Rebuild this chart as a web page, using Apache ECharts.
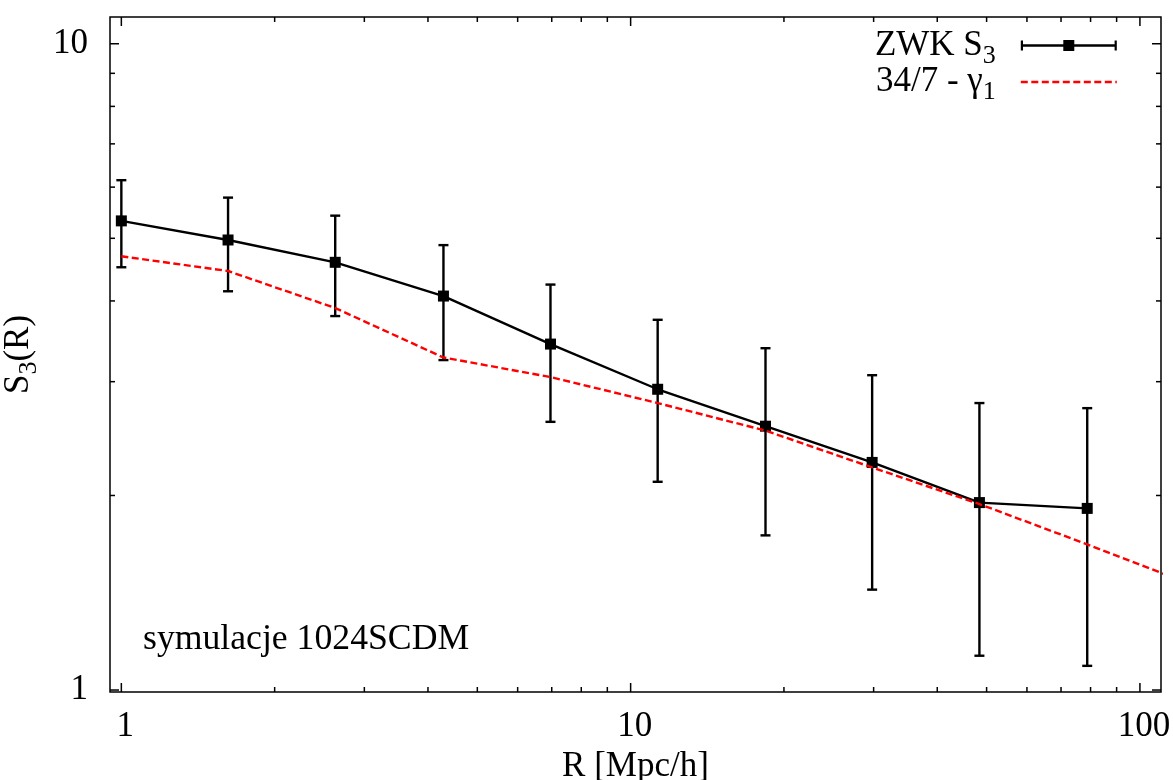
<!DOCTYPE html>
<html>
<head>
<meta charset="utf-8">
<script src="https://cdn.jsdelivr.net/npm/echarts@6/dist/echarts.min.js"></script>
<style>
html,body{margin:0;padding:0;background:#fff;}
#chart{width:1173px;height:780px;}
</style>
</head>
<body>
<div id="chart"></div>
<script>
// ---- data ----
const R = [1.0, 1.62, 2.63, 4.29, 6.96, 11.3, 18.4, 29.8, 48.4, 78.8];
const S3 = [5.32, 4.97, 4.59, 4.07, 3.43, 2.92, 2.56, 2.25, 1.95, 1.91];
const S3Low = [4.51, 4.14, 3.79, 3.24, 2.60, 2.10, 1.735, 1.43, 1.13, 1.09];
const S3High = [6.15, 5.78, 5.42, 4.88, 4.24, 3.74, 3.38, 3.07, 2.78, 2.73];
const RGamma = [1.0, 1.62, 2.63, 4.29, 6.96, 11.3, 18.4, 29.8, 48.4, 78.8, 128];
const Gamma = [4.69, 4.45, 3.90, 3.27, 3.05, 2.78, 2.52, 2.21, 1.94, 1.68, 1.45];
const xMajorTicks = [1, 10, 100];
const xMinorTicks = [2, 3, 4, 5, 6, 7, 8, 9, 20, 30, 40, 50, 60, 70, 80, 90];
const yMajorTicks = [1, 10];
const yMinorTicks = [2, 3, 4, 5, 6, 7, 8, 9];
const seriesNames = ['ZWK S3', '34/7 - γ1'];
const xTitle = 'R [Mpc/h]';
const note = 'symulacje 1024SCDM';

const FONT = 'Liberation Serif';
const chart = echarts.init(document.getElementById('chart'), null, {renderer: 'canvas'});

function powerLabel(v) {
  const l = Math.log10(v);
  return Math.abs(l - Math.round(l)) < 1e-6 ? String(Math.round(v)) : '';
}

const xTickData = xMajorTicks.map(v => [v, 1, 1]).concat(xMinorTicks.map(v => [v, 1, 0]));
const yTickData = yMajorTicks.map(v => [1, v, 1]).concat(yMinorTicks.map(v => [1, v, 0]));

const errData = R.map((r, i) => [r, S3Low[i], S3High[i]]);

const option = {
  backgroundColor: '#fff',
  animation: false,
  grid: {
    left: 110, right: 12, top: 17, bottom: 88,
    show: true, borderColor: '#000', borderWidth: 1.5,
    containLabel: false, outerBoundsMode: 'none'
  },
  legend: {
    orient: 'vertical', align: 'right', right: 50, top: 23,
    itemWidth: 96, itemHeight: 11, itemGap: -4.5, padding: 5,
    selectedMode: false,
    data: [
      {name: seriesNames[0], icon: 'path://M0,4.25H96V6.75H0Z M0,0.5H2.2V10.5H0Z M93.8,0.5H96V10.5H93.8Z M42.5,0H53.5V11H42.5Z'},
      {name: seriesNames[1],
       itemStyle: {color: 'rgba(0,0,0,0)', borderColor: 'rgba(0,0,0,0)', borderWidth: 0},
       lineStyle: {color: '#ff0000', width: 2.4, type: [7, 3.5]}}
    ],
    formatter: function (name) {
      if (name === seriesNames[0]) return '{a|ZWK S}{s|3}';
      return '{a|34/7 - γ}{s|1}';
    },
    textStyle: {
      fontFamily: FONT, color: '#000',
      rich: {
        a: {fontFamily: FONT, fontSize: 35, lineHeight: 35, color: '#000', verticalAlign: 'top'},
        s: {fontFamily: FONT, fontSize: 26, lineHeight: 26, color: '#000', verticalAlign: 'top', padding: [15, 20, 0, 0]}
      }
    }
  },
  xAxis: {
    type: 'log', logBase: 10, min: 0.95, max: 110,
    axisLine: {show: false}, axisTick: {show: false}, splitLine: {show: false},
    axisLabel: {
      formatter: powerLabel, fontFamily: FONT, fontSize: 35, color: '#000',
      margin: 17, padding: [0, 0, 0, 8]
    },
    name: xTitle, nameLocation: 'middle', nameGap: 57,
    nameTextStyle: {fontFamily: FONT, fontSize: 35, color: '#000'}
  },
  yAxis: {
    type: 'log', logBase: 10, min: 0.993, max: 11,
    axisLine: {show: false}, axisTick: {show: false}, splitLine: {show: false},
    axisLabel: {
      formatter: powerLabel, fontFamily: FONT, fontSize: 35, color: '#000', margin: 22
    },
    name: '{a|S}{s|3}{a|(R)}', nameLocation: 'middle', nameGap: 57, nameRotate: 90,
    nameTextStyle: {
      fontFamily: FONT, fontSize: 35, color: '#000',
      rich: {
        a: {fontFamily: FONT, fontSize: 35, lineHeight: 35, color: '#000', verticalAlign: 'top'},
        s: {fontFamily: FONT, fontSize: 26, lineHeight: 26, color: '#000', verticalAlign: 'top', padding: [15, 0, 0, 0]}
      }
    }
  },
  graphic: [{
    type: 'text', left: 143, top: 622,
    style: {text: note, fontFamily: FONT, fontSize: 35.7, fill: '#000'}
  }],
  series: [
    {
      name: 'ticks-x', type: 'custom', silent: true, z: 1,
      data: xTickData,
      renderItem: function (params, api) {
        const cs = params.coordSys;
        const x = api.coord([api.value(0), 1])[0];
        const len = api.value(2) ? 9 : 5;
        const bottom = cs.y + cs.height, top = cs.y;
        const st = {stroke: '#000', lineWidth: 1.5};
        return {type: 'group', children: [
          {type: 'line', shape: {x1: x, y1: bottom, x2: x, y2: bottom - len}, style: st},
          {type: 'line', shape: {x1: x, y1: top, x2: x, y2: top + len}, style: st}
        ]};
      }
    },
    {
      name: 'ticks-y', type: 'custom', silent: true, z: 1,
      data: yTickData,
      renderItem: function (params, api) {
        const cs = params.coordSys;
        const y = api.coord([1, api.value(1)])[1];
        const len = api.value(2) ? 9 : 5;
        const left = cs.x, right = cs.x + cs.width;
        const st = {stroke: '#000', lineWidth: 1.5};
        return {type: 'group', children: [
          {type: 'line', shape: {x1: left, y1: y, x2: left + len, y2: y}, style: st},
          {type: 'line', shape: {x1: right, y1: y, x2: right - len, y2: y}, style: st}
        ]};
      }
    },
    {
      name: 'ZWK S3 errors', type: 'custom', silent: true, z: 2,
      data: errData,
      encode: {x: 0, y: [1, 2]},
      renderItem: function (params, api) {
        const x = api.value(0);
        const pLo = api.coord([x, api.value(1)]);
        const pHi = api.coord([x, api.value(2)]);
        const w = 5;
        const st = {stroke: '#000', lineWidth: 2.4};
        return {type: 'group', children: [
          {type: 'line', shape: {x1: pLo[0], y1: pLo[1], x2: pHi[0], y2: pHi[1]}, style: st},
          {type: 'line', shape: {x1: pLo[0] - w, y1: pLo[1], x2: pLo[0] + w, y2: pLo[1]}, style: st},
          {type: 'line', shape: {x1: pHi[0] - w, y1: pHi[1], x2: pHi[0] + w, y2: pHi[1]}, style: st}
        ]};
      }
    },
    {
      name: seriesNames[0], type: 'line', z: 3,
      data: R.map((r, i) => [r, S3[i]]),
      symbol: 'rect', symbolSize: 11, showAllSymbol: true,
      itemStyle: {color: '#000'},
      lineStyle: {color: '#000', width: 2.4}
    },
    {
      name: seriesNames[1], type: 'line', z: 4,
      data: RGamma.map((r, i) => [r, Gamma[i]]),
      symbol: 'none', clip: true,
      itemStyle: {color: '#ff0000'},
      lineStyle: {color: '#ff0000', width: 2.4, type: [7, 3.5]}
    }
  ]
};
chart.setOption(option);
</script>
</body>
</html>
